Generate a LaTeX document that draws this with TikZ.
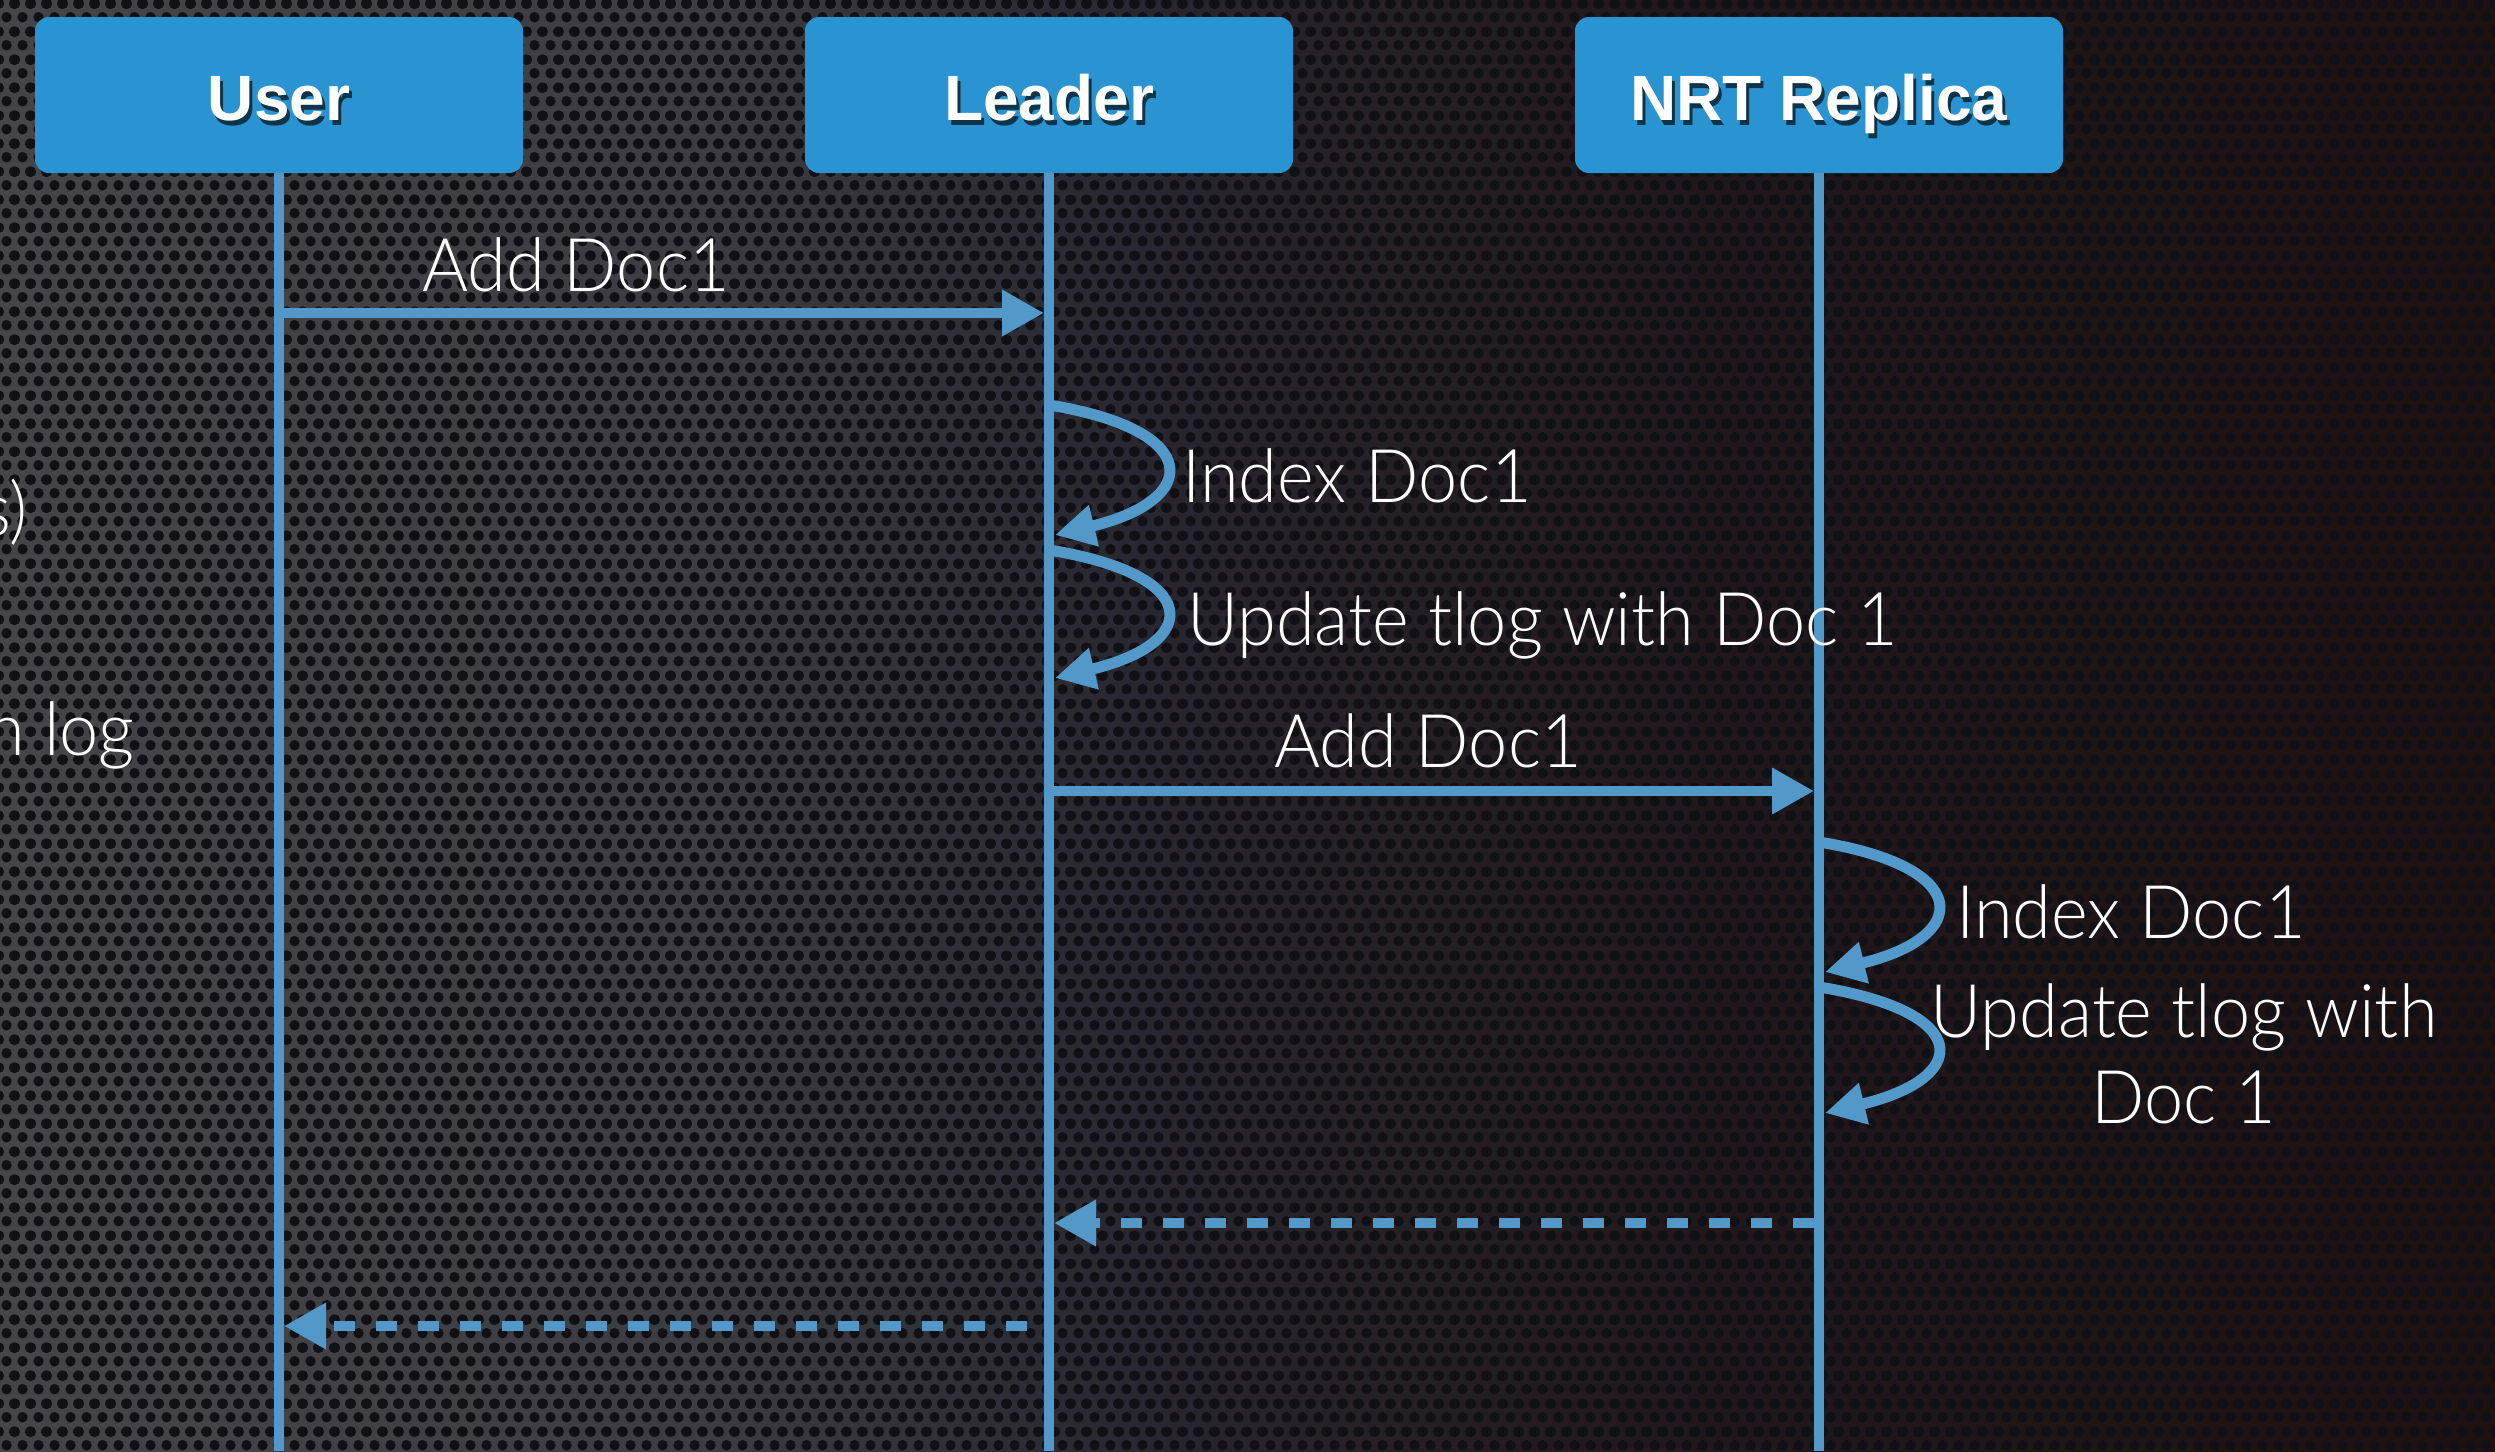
\documentclass[tikz,border=0pt]{standalone}
\usepackage{fontspec}
\usetikzlibrary{arrows.meta,patterns.meta}

% fonts: thin sans for message labels, bold sans for the lane headers
\IfFontExistsTF{Lato Light}
  {\newfontfamily\labelfamily{Lato Light}[FakeStretch=0.95]}
  {\newfontfamily\labelfamily{Liberation Sans}[FakeStretch=0.9]}
\newfontfamily\headfamily{Liberation Sans}

\definecolor{boxblue}{RGB}{42,148,210}
\definecolor{flow}{RGB}{82,153,202}
\definecolor{metalA}{RGB}{68,68,73}
\definecolor{metalB}{RGB}{60,60,66}
\definecolor{metalC}{RGB}{40,38,46}
\definecolor{metalD}{RGB}{32,25,29}
\definecolor{metalE}{RGB}{29,18,18}
\definecolor{hole}{RGB}{16,16,21}

% perforated sheet: staggered round holes
\tikzdeclarepattern{
  name=perforated,
  type=uncolored,
  bounding box={(0pt,0pt) and (16pt,28pt)},
  tile size={(16pt,28pt)},
  code={
    \fill (8pt,7pt) circle [radius=5.5pt];
    \fill (0pt,21pt) circle [radius=5.5pt];
    \fill (16pt,21pt) circle [radius=5.5pt];
  }
}

% header text with a soft drop shadow
\newcommand\dropshadowed[1]{%
  \leavevmode\rlap{\raisebox{-5pt}[0pt][0pt]{\hspace{3pt}\textcolor{boxblue!35!black}{#1}}}#1}

\tikzset{
  lane/.style={rectangle, rounded corners=14pt, fill=boxblue, text=white,
    minimum width=488pt, minimum height=156pt, inner sep=0pt,
    text height=50pt, text depth=0pt,
    font=\headfamily\bfseries\fontsize{64}{72}\selectfont},
  life/.style={draw=flow, line width=10pt},
  msg/.style={draw=flow, line width=10pt,
    -{Triangle[length=42pt,width=44pt]}},
  reply/.style={msg, dash pattern=on 21pt off 21pt},
  selfcall/.style={draw=flow, line width=11pt,
    -{Triangle[length=40pt,width=40pt]}},
  lbl/.style={text=white, inner sep=0pt,
    font=\labelfamily\fontsize{74}{86}\selectfont},
}

\begin{document}
\begin{tikzpicture}[x=1pt, y=-1pt]
  \useasboundingbox (0,0) rectangle (2495,1451);
  \clip (0,0) rectangle (2495,1451);

  % backdrop: grey metal fading to a dark brown on the right
  \fill[left color=metalA, right color=metalB] (0,0) rectangle (700,1451);
  \fill[left color=metalB, right color=metalC] (700,0) rectangle (1150,1451);
  \fill[left color=metalC, right color=metalD] (1150,0) rectangle (1650,1451);
  \fill[left color=metalD, right color=metalE] (1650,0) rectangle (2495,1451);
  \fill[pattern=perforated, pattern color=hole] (0,0) rectangle (2495,1451);

  % text running in from the left edge
  \node[lbl, anchor=base east] (edgeA) at (28,535) {s)};
  \node[lbl, anchor=base east] (edgeB) at (135,755) {n log};

  % lane headers
  \node[lane] (user)    at (279,95)  {\dropshadowed{User}};
  \node[lane] (leader)  at (1049,95) {\dropshadowed{Leader}};
  \node[lane] (replica) at (1819,95) {\dropshadowed{NRT Replica}};

  % lifelines
  \coordinate (userEnd)    at (279,1451);
  \coordinate (leaderEnd)  at (1049,1451);
  \coordinate (replicaEnd) at (1819,1451);
  \draw[life] (user.south)    -- (userEnd);
  \draw[life] (leader.south)  -- (leaderEnd);
  \draw[life] (replica.south) -- (replicaEnd);

  % message points on the lifelines
  \coordinate (u1) at (279,313);   \coordinate (l1) at (1049,313);
  \coordinate (l2a) at (1049,405); \coordinate (l2b) at (1055,535);
  \coordinate (l3a) at (1049,550); \coordinate (l3b) at (1055,678);
  \coordinate (l4) at (1049,791);  \coordinate (r4) at (1819,791);
  \coordinate (r5a) at (1819,842); \coordinate (r5b) at (1825,972);
  \coordinate (r6a) at (1819,987); \coordinate (r6b) at (1825,1113);
  \coordinate (r7) at (1819,1223); \coordinate (l7) at (1049,1223);
  \coordinate (l8) at (1049,1326); \coordinate (u8) at (279,1326);

  % user -> leader
  \draw[msg, shorten >=5pt] (u1) -- (l1);
  \node[lbl, anchor=base] (addA) at (576,291) {Add Doc1};

  % leader works locally
  \draw[selfcall] (l2a) .. controls +(155,25) and +(146,-35) .. (l2b);
  \node[lbl, anchor=base west] (idxA) at (1182,502) {Index Doc1};
  \draw[selfcall] (l3a) .. controls +(155,25) and +(146,-35) .. (l3b);
  \node[lbl, anchor=base west] (tlogA) at (1187,645) {Update tlog with Doc 1};

  % leader -> replica
  \draw[msg, shorten >=5pt] (l4) -- (r4);
  \node[lbl, anchor=base] (addB) at (1428,767) {Add Doc1};

  % replica works locally
  \draw[selfcall] (r5a) .. controls +(155,25) and +(146,-35) .. (r5b);
  \node[lbl, anchor=base west] (idxB) at (1956,938) {Index Doc1};
  \draw[selfcall] (r6a) .. controls +(155,25) and +(146,-35) .. (r6b);
  \node[lbl, anchor=base, align=center] (tlogB) at (2184,1123)
    {Update tlog with\\Doc 1};

  % acknowledgements
  \draw[reply, shorten <=5pt, shorten >=5pt] (r7) -- (l7);
  \draw[reply, shorten <=22pt, shorten >=5pt] (l8) -- (u8);
\end{tikzpicture}
\end{document}
